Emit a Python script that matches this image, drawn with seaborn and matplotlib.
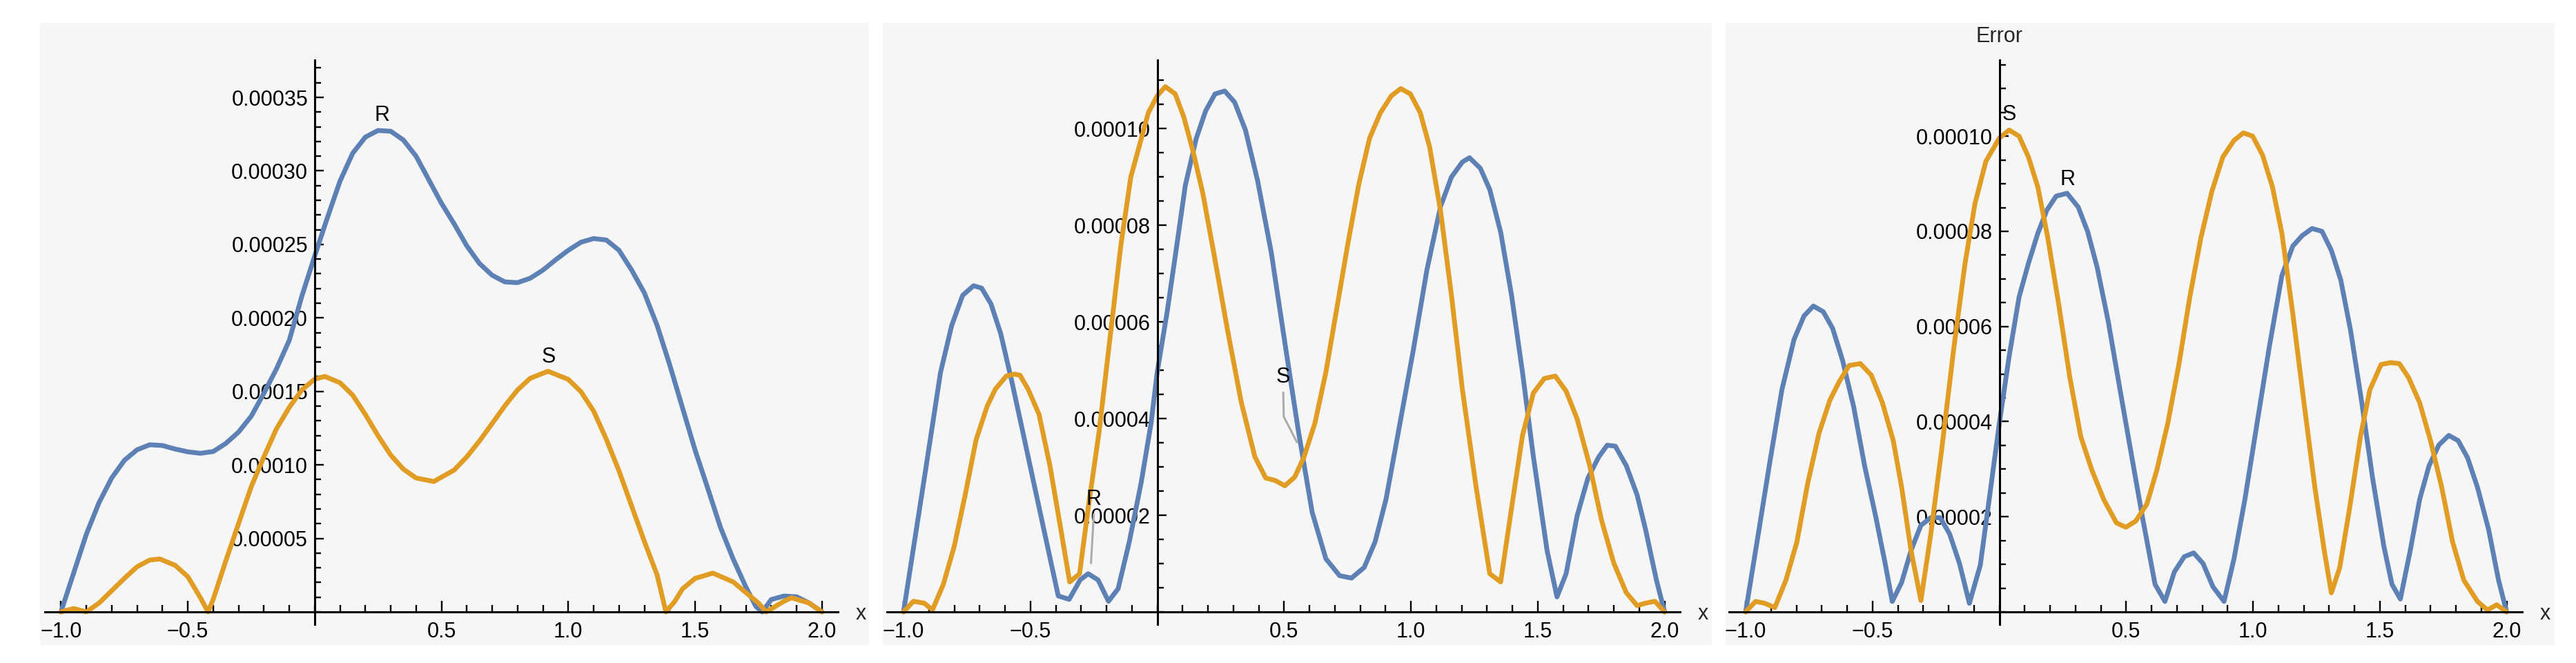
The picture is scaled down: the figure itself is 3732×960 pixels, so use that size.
import matplotlib
matplotlib.use('Agg')
import matplotlib.pyplot as plt
from matplotlib.patches import Rectangle
from matplotlib.ticker import MultipleLocator
import seaborn as sns

# error curves, values in units of 1e-5
# panel 1: smooth curves
x_r1 = [-1, -0.95, -0.9, -0.85, -0.8, -0.75, -0.7, -0.65, -0.6, -0.55, -0.5, -0.45, -0.4,
        -0.35, -0.3, -0.25, -0.2, -0.15, -0.1, -0.05, 0, 0.05, 0.1, 0.15, 0.2, 0.25, 0.3,
        0.35, 0.4, 0.45, 0.5, 0.55, 0.6, 0.65, 0.7, 0.75, 0.8, 0.85, 0.9, 0.95, 1.0, 1.05,
        1.1, 1.15, 1.2, 1.25, 1.3, 1.35, 1.4, 1.45, 1.5, 1.55, 1.6, 1.65, 1.7, 1.74, 1.765,
        1.8, 1.85, 1.9, 1.95, 2.0]
r1 = [0, 2.64, 5.28, 7.43, 9.11, 10.31, 11.03, 11.37, 11.32, 11.08, 10.89, 10.79, 10.91,
      11.46, 12.23, 13.31, 14.87, 16.55, 18.47, 21.5, 24.2, 26.8, 29.3, 31.2, 32.3, 32.75,
      32.7, 32.1, 31.0, 29.4, 27.8, 26.4, 24.9, 23.7, 22.9, 22.45, 22.4, 22.7, 23.25, 23.95,
      24.6, 25.15, 25.4, 25.3, 24.6, 23.25, 21.7, 19.5, 16.8, 13.9, 11.0, 8.4, 5.75, 3.6,
      1.7, 0.36, 0.0, 0.84, 1.08, 1.03, 0.6, 0]
x_s1 = [-1, -0.95, -0.9, -0.85, -0.8, -0.75, -0.7, -0.65, -0.61, -0.55, -0.5, -0.45, -0.42,
        -0.4, -0.35, -0.3, -0.25, -0.2, -0.15, -0.1, -0.05, 0, 0.04, 0.1, 0.15, 0.2, 0.25,
        0.3, 0.35, 0.4, 0.47, 0.55, 0.6, 0.65, 0.7, 0.75, 0.8, 0.85, 0.92, 1.0, 1.05, 1.1,
        1.15, 1.2, 1.25, 1.3, 1.35, 1.385, 1.42, 1.45, 1.5, 1.57, 1.65, 1.7, 1.75, 1.78,
        1.85, 1.88, 1.95, 2.0]
s1 = [0, 0.23, 0.0, 0.6, 1.44, 2.28, 3.07, 3.53, 3.6, 3.17, 2.4, 0.96, 0, 0.84, 3.48, 6.0,
      8.51, 10.55, 12.47, 13.91, 15.11, 15.83, 16.02, 15.59, 14.75, 13.43, 11.99, 10.67,
      9.71, 9.11, 8.87, 9.65, 10.55, 11.63, 12.82, 14.02, 15.1, 15.89, 16.37, 15.82, 14.98,
      13.66, 11.74, 9.59, 7.19, 4.79, 2.52, 0, 0.72, 1.56, 2.28, 2.64, 2.04, 1.32, 0.6,
      0.0, 0.72, 0.96, 0.6, 0]

# panel 2
x_r2 = [-1, -0.918, -0.854, -0.81, -0.767, -0.724, -0.692, -0.655, -0.617, -0.574, -0.53,
        -0.487, -0.44, -0.39, -0.347, -0.304, -0.272, -0.233, -0.192, -0.154, -0.11,
        -0.063, -0.024, 0, 0.039, 0.073, 0.111, 0.154, 0.191, 0.228, 0.266, 0.305, 0.348,
        0.396, 0.45, 0.503, 0.557, 0.611, 0.665, 0.719, 0.766, 0.816, 0.859, 0.902, 0.951,
        1.009, 1.063, 1.117, 1.16, 1.203, 1.231, 1.274, 1.311, 1.354, 1.397, 1.44, 1.483,
        1.537, 1.576, 1.612, 1.655, 1.698, 1.741, 1.774, 1.806, 1.849, 1.892, 1.925, 1.968, 2.0]
r2 = [0, 2.77, 4.96, 5.93, 6.55, 6.75, 6.7, 6.37, 5.76, 4.79, 3.73, 2.68, 1.54, 0.33, 0.26,
      0.66, 0.79, 0.66, 0.22, 0.48, 1.45, 2.68, 3.91, 4.96, 6.2, 7.43, 8.83, 9.8, 10.37,
      10.72, 10.78, 10.55, 9.97, 8.92, 7.43, 5.58, 3.73, 2.06, 1.1, 0.75, 0.7, 0.92, 1.45,
      2.33, 3.73, 5.4, 7.07, 8.39, 9.0, 9.31, 9.4, 9.18, 8.74, 7.86, 6.55, 4.96, 3.21, 1.27,
      0.31, 0.79, 1.98, 2.77, 3.21, 3.45, 3.43, 3.03, 2.42, 1.71, 0.66, 0]
x_s2 = [-1, -0.961, -0.918, -0.886, -0.843, -0.8, -0.757, -0.714, -0.67, -0.638, -0.595,
        -0.563, -0.541, -0.509, -0.466, -0.423, -0.38, -0.345, -0.306, -0.272, -0.229,
        -0.186, -0.143, -0.104, -0.067, -0.035, 0, 0.032, 0.071, 0.105, 0.141, 0.18, 0.223,
        0.277, 0.331, 0.385, 0.428, 0.465, 0.503, 0.542, 0.579, 0.622, 0.665, 0.708, 0.751,
        0.794, 0.837, 0.88, 0.923, 0.96, 0.998, 1.037, 1.074, 1.117, 1.16, 1.203, 1.257,
        1.311, 1.354, 1.397, 1.44, 1.483, 1.526, 1.569, 1.612, 1.655, 1.705, 1.752, 1.8,
        1.849, 1.892, 1.925, 1.962, 2.0]
s2 = [0, 0.22, 0.18, 0.04, 0.57, 1.36, 2.42, 3.56, 4.26, 4.61, 4.88, 4.92, 4.9, 4.61, 4.09,
      3.03, 1.71, 0.62, 0.79, 2.15, 3.73, 5.67, 7.6, 9.0, 9.71, 10.33, 10.68, 10.87, 10.72,
      10.24, 9.54, 8.66, 7.43, 5.84, 4.35, 3.21, 2.77, 2.72, 2.61, 2.79, 3.21, 3.91, 4.96,
      6.28, 7.6, 8.83, 9.8, 10.33, 10.68, 10.83, 10.72, 10.33, 9.62, 8.3, 6.55, 4.61, 2.59,
      0.79, 0.62, 2.15, 3.65, 4.53, 4.83, 4.88, 4.57, 4.0, 3.03, 1.89, 1.01, 0.4, 0.13, 0.18,
      0.22, 0]

# panel 3
x_r3 = [-1, -0.95, -0.907, -0.857, -0.809, -0.77, -0.733, -0.694, -0.657, -0.618, -0.574,
        -0.531, -0.487, -0.45, -0.422, -0.385, -0.348, -0.309, -0.27, -0.233, -0.196,
        -0.157, -0.118, -0.075, -0.038, 0, 0.039, 0.078, 0.115, 0.152, 0.187, 0.224, 0.267,
        0.311, 0.348, 0.386, 0.43, 0.473, 0.517, 0.564, 0.614, 0.653, 0.69, 0.729, 0.766,
        0.803, 0.842, 0.886, 0.925, 0.968, 1.016, 1.064, 1.114, 1.157, 1.194, 1.233, 1.272,
        1.309, 1.346, 1.385, 1.429, 1.472, 1.516, 1.548, 1.581, 1.62, 1.657, 1.694, 1.733,
        1.772, 1.809, 1.846, 1.885, 1.929, 1.968, 2.0]
r3 = [0, 1.64, 3.07, 4.67, 5.73, 6.22, 6.43, 6.31, 5.96, 5.29, 4.31, 3.07, 2.0, 1.02, 0.22,
      0.62, 1.29, 1.82, 1.98, 1.98, 1.64, 1.02, 0.18, 0.98, 2.44, 3.96, 5.38, 6.62, 7.33,
      7.96, 8.44, 8.74, 8.8, 8.51, 8.0, 7.24, 6.09, 4.76, 3.42, 2.0, 0.58, 0.22, 0.84, 1.16,
      1.24, 1.02, 0.53, 0.22, 1.11, 2.36, 3.96, 5.56, 7.07, 7.69, 7.91, 8.06, 8.0, 7.6, 6.98,
      5.91, 4.4, 2.8, 1.38, 0.58, 0.27, 1.29, 2.36, 3.07, 3.51, 3.71, 3.6, 3.24, 2.62, 1.73,
      0.67, 0]
x_s3 = [-1, -0.961, -0.924, -0.885, -0.841, -0.798, -0.755, -0.711, -0.668, -0.631, -0.592,
        -0.548, -0.505, -0.461, -0.418, -0.385, -0.348, -0.309, -0.27, -0.227, -0.179,
        -0.135, -0.096, -0.053, 0, 0.039, 0.078, 0.115, 0.152, 0.191, 0.235, 0.278, 0.321,
        0.365, 0.412, 0.462, 0.499, 0.538, 0.582, 0.621, 0.664, 0.708, 0.751, 0.795, 0.838,
        0.881, 0.925, 0.962, 0.999, 1.038, 1.077, 1.114, 1.157, 1.201, 1.244, 1.281, 1.309,
        1.342, 1.381, 1.424, 1.461, 1.505, 1.542, 1.577, 1.613, 1.657, 1.7, 1.744, 1.787,
        1.831, 1.885, 1.924, 1.961, 2.0]
s3 = [0, 0.22, 0.18, 0.09, 0.67, 1.47, 2.71, 3.75, 4.45, 4.84, 5.18, 5.22, 4.98, 4.4, 3.6,
      2.62, 1.29, 0.24, 1.64, 3.42, 5.56, 7.33, 8.58, 9.47, 9.96, 10.13, 10.0, 9.56, 8.93,
      7.87, 6.44, 4.93, 3.69, 2.98, 2.36, 1.87, 1.78, 1.91, 2.27, 2.98, 3.96, 5.2, 6.62,
      7.87, 8.84, 9.56, 9.91, 10.07, 10.0, 9.6, 8.93, 7.96, 6.27, 4.4, 2.62, 1.29, 0.4, 0.93,
      2.18, 3.69, 4.67, 5.2, 5.24, 5.22, 4.93, 4.4, 3.6, 2.62, 1.47, 0.67, 0.22, 0.04, 0.15, 0]

x_ticks = [-1, -0.5, 0.5, 1, 1.5, 2]
x_labels = ['\u22121.0', '\u22120.5', '0.5', '1.0', '1.5', '2.0']
y_ticks1 = [5, 10, 15, 20, 25, 30, 35]
y_labels1 = ['0.00005', '0.00010', '0.00015', '0.00020', '0.00025', '0.00030', '0.00035']
y_ticks23 = [2, 4, 6, 8, 10]
y_labels23 = ['0.00002', '0.00004', '0.00006', '0.00008', '0.00010']
y_tops = [37.54, 11.42, 11.6]

# curve labels (x, baseline y) and callout leader lines for panel 2
labels1 = [('R', 0.267, 33.4), ('S', 0.923, 16.97)]
labels2 = [('S', 0.497, 4.75), ('R', -0.25, 2.22)]
labels3 = [('S', 0.038, 10.33), ('R', 0.269, 8.97)]
lead_s2_x = [0.497, 0.499, 0.551]
lead_s2_y = [4.54, 4.04, 3.51]
lead_r2_x = [-0.25, -0.261]
lead_r2_y = [2.02, 1.01]

BLUE = '#5E81B5'
ORANGE = '#E19C24'
GRAY = '#ABABAB'
BG = '#F6F6F6'

sns.set_style('white')
plt.rcParams['font.family'] = ['Liberation Sans', 'DejaVu Sans']

W, H = 3732, 960
fig = plt.figure(figsize=(W / 100, H / 100), dpi=100)
fig.patch.set_facecolor('white')

XMIN, XMAX = -1.064, 2.062
PX_PER_X = 367.5
origins = [88.3, 1309, 2529]
AX_TOP, AX_ZERO = 87, 886
BELOW = 18

panels = [
    (x_r1, r1, x_s1, s1, y_ticks1, y_labels1, 1, labels1),
    (x_r2, r2, x_s2, s2, y_ticks23, y_labels23, 0.5, labels2),
    (x_r3, r3, x_s3, s3, y_ticks23, y_labels23, 0.5, labels3),
]

for i, (xr, yr, xs, ys, yt, yl, ymin_step, labs) in enumerate(panels):
    # gray panel background, kept behind the axes
    fig.patches.append(Rectangle(((58 + 1221 * i) / W, (H - 934) / H), 1201 / W, 901 / H,
                                 transform=fig.transFigure, facecolor=BG, edgecolor='none',
                                 zorder=-10))
    left = origins[i] - (-1 - XMIN) * PX_PER_X
    width = (XMAX - XMIN) * PX_PER_X
    bottom = AX_ZERO + BELOW
    ax = fig.add_axes([left / W, (H - bottom) / H, width / W, (bottom - AX_TOP) / H])
    ax.set_facecolor('none')
    ax.set_zorder(1)

    top = y_tops[i]
    ax.set_xlim(XMIN, XMAX)
    ax.set_ylim(-BELOW * top / (AX_ZERO - AX_TOP), top)

    sns.lineplot(x=xr, y=yr, ax=ax, color=BLUE, linewidth=5.0, sort=False, estimator=None)
    sns.lineplot(x=xs, y=ys, ax=ax, color=ORANGE, linewidth=5.0, sort=False, estimator=None)

    for s in ['top', 'right']:
        ax.spines[s].set_visible(False)
    ax.spines['left'].set_position(('data', 0))
    ax.spines['bottom'].set_position(('data', 0))
    for s in ['left', 'bottom']:
        ax.spines[s].set_linewidth(2.2)
        ax.spines[s].set_color('black')

    ax.set_xticks(x_ticks, x_labels)
    ax.set_yticks(yt, yl)
    ax.xaxis.set_minor_locator(MultipleLocator(0.1))
    ax.yaxis.set_minor_locator(MultipleLocator(ymin_step))
    ax.tick_params(axis='x', which='both', bottom=True, top=False, direction='in',
                   width=1.7, color='black')
    ax.tick_params(axis='y', which='both', left=True, right=False, direction='in',
                   width=1.7, color='black')
    ax.tick_params(axis='x', which='major', length=11.5, labelsize=22, pad=10,
                   labelcolor='black')
    ax.tick_params(axis='x', which='minor', length=7.2)
    ax.tick_params(axis='y', which='major', length=9.4, labelsize=22, pad=7,
                   labelcolor='black')
    ax.tick_params(axis='y', which='minor', length=6.5)
    ax.grid(False)

    for txt, lx, ly in labs:
        ax.text(lx, ly, txt, ha='center', va='baseline', fontsize=22, color='black')

    ax.annotate('x', xy=(2.153, 0), xytext=(0, -8), textcoords='offset points',
                ha='center', va='baseline', fontsize=22, annotation_clip=False)

    if i == 1:
        ax.plot(lead_s2_x, lead_s2_y, color=GRAY, linewidth=2.2, zorder=3)
        ax.plot(lead_r2_x, lead_r2_y, color=GRAY, linewidth=2.2, zorder=3)
    if i == 2:
        ax.annotate('Error', xy=(0, top), xytext=(0, 18.7), textcoords='offset points',
                    ha='center', va='baseline', fontsize=22, annotation_clip=False)

fig.savefig('out.png', dpi=100, facecolor='white')
plt.close()
